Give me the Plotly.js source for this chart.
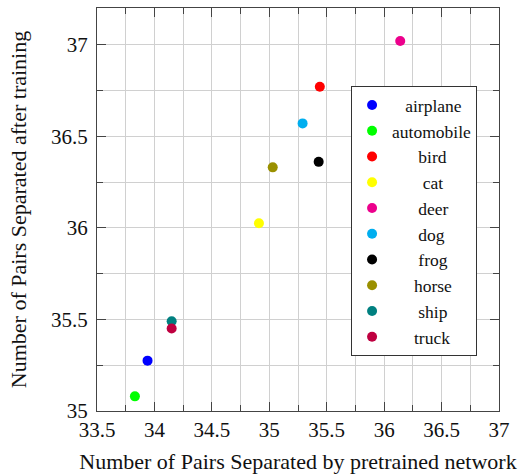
<!DOCTYPE html>
<html>
<head>
<meta charset="utf-8">
<script src="https://cdn.plot.ly/plotly-3.0.1.min.js"></script>
<style>html,body{margin:0;padding:0;background:#fff;}#chart{width:519px;height:474px;}</style>
</head>
<body>
<div id="chart"></div>
<script>
const categories = ["airplane","automobile","bird","cat","deer","dog","frog","horse","ship","truck"];
const pretrained = [33.94, 33.83, 35.44, 34.91, 36.14, 35.29, 35.43, 35.03, 34.15, 34.15];
const afterTraining = [35.275, 35.08, 36.77, 36.025, 37.02, 36.57, 36.36, 36.33, 35.49, 35.45];
const colors = ["#0000ff","#00ff00","#ff0000","#ffff00","#ec008c","#00aeef","#000000","#9a9000","#008080","#bf0040"];

const serif = "'Liberation Serif', 'DejaVu Serif', serif";
const legendSize = 17.5;

// centre the legend labels like the reference by left-padding with no-break spaces
const cv = document.createElement("canvas").getContext("2d");
cv.font = legendSize + "px 'Liberation Serif'";
const widths = categories.map(c => cv.measureText(c).width);
const maxW = Math.max(...widths);
const spW = cv.measureText("\u00a0").width || legendSize * 0.25;
const labels = categories.map((c, i) => "\u00a0".repeat(Math.max(0, Math.round((maxW - widths[i]) / 2 / spW))) + c);

const traces = categories.map((c, i) => ({
  type: "scatter", mode: "markers",
  x: [pretrained[i]], y: [afterTraining[i]],
  name: labels[i], legendgroup: c,
  marker: {color: colors[i], size: 10}
}));

const axisCommon = {
  showline: true, linecolor: "#444", linewidth: 1, mirror: "ticks",
  ticks: "inside", ticklen: 9, tickcolor: "#444", tickwidth: 1,
  showgrid: true, gridcolor: "#d0d0d0", gridwidth: 1,
  zeroline: false,
  minor: {dtick: 0.25, ticks: "inside", ticklen: 6, tickcolor: "#444", showgrid: true, gridcolor: "#d0d0d0", gridwidth: 1}
};

const layout = {
  width: 519, height: 474,
  margin: {l: 97, r: 20, t: 8, b: 63},
  paper_bgcolor: "#fff", plot_bgcolor: "#fff",
  font: {family: serif, color: "#111"},
  xaxis: Object.assign({}, axisCommon, {
    range: [33.5, 37], dtick: 0.5, tick0: 33.5,
    ticklabelstandoff: 0,
    tickfont: {family: serif, size: 21, color: "#111"},
    title: {text: "Number of Pairs Separated by pretrained network", font: {family: serif, size: 22, color: "#111"}, standoff: 12}
  }),
  yaxis: Object.assign({}, axisCommon, {
    range: [35, 37.2], dtick: 0.5, tick0: 35,
    ticklabelstandoff: 4,
    tickfont: {family: serif, size: 21, color: "#111"},
    title: {text: "Number of Pairs Separated after training", font: {family: serif, size: 22, color: "#111"}, standoff: 18}
  }),
  showlegend: true,
  legend: {
    x: 0.632, y: 0.806, xanchor: "left", yanchor: "top",
    bgcolor: "#fff", bordercolor: "#333", borderwidth: 1,
    font: {family: serif, size: legendSize, color: "#111"},
    tracegroupgap: 0, itemwidth: 30
  }
};

Plotly.newPlot("chart", traces, layout, {displayModeBar: false, staticPlot: true});
</script>
</body>
</html>
